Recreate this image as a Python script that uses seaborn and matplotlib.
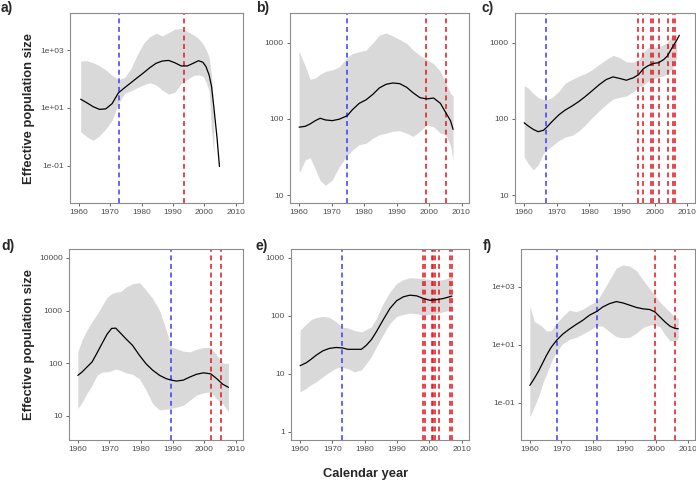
import numpy as np
import pandas as pd
import matplotlib
matplotlib.use("Agg")
import matplotlib.pyplot as plt
from matplotlib.ticker import NullLocator, FixedLocator, FixedFormatter
import seaborn as sns

# ---------------- data ----------------
# panel a
years_a = [1960.6, 1962.6, 1964.6, 1966.6, 1968.6, 1970.6, 1972.6, 1974.6, 1976.6, 1978.6,
           1980.6, 1982.6, 1984.6, 1986.6, 1988.6, 1990.6, 1992.6, 1994.6, 1996.6, 1998.1,
           1999.5, 2000.5, 2001.5, 2002.3, 2003.0, 2004.0, 2004.8]
med_a = [20, 15, 11, 8.9, 9.3, 14, 33, 50, 74, 110, 162, 245, 347, 417, 437, 363, 282, 282, 355, 427,
         380, 269, 138, 54, 11, 1.0, 0.095]
lo_a = [1.5, 1.0, 0.76, 1.1, 1.9, 3.7, 14, 32, 39, 50, 62, 74, 62, 41, 30, 35, 69, 98, 132, 138,
        126, 79, 40, 1.6, 0.25, np.nan, np.nan]
hi_a = [417, 427, 363, 282, 204, 135, 95, 112, 229, 676, 1700, 2880, 3800, 3090, 3980, 5250, 5620, 4370, 3310, 2510,
        1660, 1070, 560, 126, 4, np.nan, np.nan]
blue_a = [1972.8]
red_a = [1993.4]

# panel b
years_b = [1960.0, 1961.9, 1963.4, 1965.0, 1966.5, 1968.1, 1970.2, 1972.3, 1974.8, 1976.4,
           1978.5, 1980.6, 1982.7, 1984.7, 1986.8, 1988.9, 1991.0, 1993.1, 1995.1, 1997.2,
           1999.3, 2001.4, 2003.5, 2005.1, 2006.6, 2007.4]
med_b = [78, 80, 86, 95, 102, 97, 95, 99, 110, 132, 160, 178, 210, 255, 285, 296, 290, 260, 220, 190,
         183, 188, 160, 122, 95, 73]
lo_b = [19.6, 29, 31, 22, 15.5, 13.5, 15.8, 23.5, 33, 39, 46, 48, 56, 62, 65, 69, 70, 65, 59, 69,
        84, 79, 65, 62, 45, 29]
hi_b = [775, 490, 330, 345, 385, 420, 440, 480, 640, 720, 760, 800, 1000, 1250, 1340, 1220, 1100, 980, 800, 680,
        600, 530, 420, 300, 215, 200]
blue_b = [1974.8]
red_b = [1999.1, 2005.1]

# panel c
years_c = [1960.0, 1961.2, 1962.8, 1964.3, 1965.9, 1966.8, 1968.5, 1970.6, 1972.6, 1974.7,
           1976.8, 1978.8, 1980.9, 1983.0, 1985.1, 1987.2, 1989.2, 1991.3, 1993.4, 1995.0,
           1996.5, 1998.0, 1999.6, 2001.1, 2002.7, 2003.8, 2005.3, 2006.7, 2007.5]
med_c = [89, 81, 73, 68, 71, 77, 92, 113, 131, 148, 170, 198, 236, 282, 328, 356, 340, 322, 346, 380,
         455, 500, 535, 545, 600, 665, 860, 1080, 1250]
lo_c = [32, 26, 21.5, 25, 35.5, 39, 44, 52, 58, 61, 70, 84, 105, 128, 155, 182, 192, 200, 228, 260,
        280, 310, 335, 355, 365, 395, 450, 635, np.nan]
hi_c = [273, 255, 215, 190, 180, 178, 190, 230, 295, 330, 365, 395, 445, 520, 600, 680, 640, 560, 555, 600,
        740, 860, 860, 880, 950, 1000, 1230, 1290, np.nan]
blue_c = [1966.8]
red_c = [1995.0, 1996.5, 1998.8, 1999.5, 2001.2, 2003.9, 2005.5, 2006.3]

# panel d
years_d = [1960.0, 1961.3, 1962.9, 1964.5, 1966.1, 1967.7, 1969.3, 1970.7, 1972.0, 1973.6,
           1975.2, 1977.3, 1979.5, 1981.6, 1983.7, 1985.9, 1988.0, 1989.6, 1991.2, 1993.4,
           1995.5, 1997.6, 1999.8, 2002.1, 2004.0, 2005.9, 2007.7]
med_d = [59, 68, 85, 106, 158, 240, 360, 460, 465, 370, 293, 220, 142, 98, 74, 59, 51, 48, 46, 48,
         55, 62, 66, 63, 51, 40, 35]
lo_d = [13.8, 18, 27, 38, 60, 68, 69, 72, 78, 73, 66, 62, 51, 31, 17, 13, 13.5, 14, 14.7, 16,
        20, 25, 27.5, 29, 21, 17, 12]
hi_d = [166, 275, 430, 620, 860, 1250, 1800, 2100, 2250, 2300, 2800, 3250, 3400, 2450, 1700, 1000, 425, 205, 190, 170,
        165, 185, 200, 200, 142, 100, 100]
blue_d = [1989.6]
red_d = [2002.1, 2005.2]

# panel e
years_e = [1960.0, 1961.9, 1963.4, 1965.0, 1967.1, 1969.1, 1971.2, 1973.1, 1974.8, 1976.9,
           1979.0, 1980.5, 1982.1, 1983.6, 1985.7, 1987.8, 1989.9, 1992.0, 1994.0, 1996.1,
           1998.2, 2000.2, 2002.3, 2004.4, 2007.0]
med_e = [13.8, 15.5, 17.8, 21, 25, 27.5, 28.5, 28, 26.5, 26.5, 26.5, 31, 39, 53, 85, 134, 183, 214, 228, 222,
         200, 186, 191, 200, 220]
lo_e = [4.9, 5.6, 6.5, 7.3, 8.9, 10.7, 12.6, 13.0, 12.2, 10.8, 11.8, 15, 20, 29, 47, 74, 98, 106, 112, 109,
        103, 106, 109, 118, 130]
hi_e = [57, 72, 86, 94, 98, 94, 79, 64, 62, 56, 53, 58, 65, 90, 163, 258, 362, 425, 457, 450,
        440, 425, 410, 425, 470]
blue_e = [1973.1]
red_e = [1998.2, 1998.6, 2000.7, 2001.1, 2001.9, 2003.1, 2006.3, 2007.1]

# panel f
years_f = [1960.0, 1961.4, 1962.8, 1964.0, 1965.3, 1966.7, 1968.5, 1970.4, 1972.5, 1974.6,
           1976.8, 1978.9, 1981.3, 1983.1, 1985.3, 1987.4, 1989.5, 1991.7, 1993.8, 1995.9,
           1998.0, 1999.6, 2001.2, 2002.8, 2004.4, 2006.0, 2007.0]
med_f = [0.40, 0.69, 1.26, 2.3, 4.4, 8.1, 14.5, 23.4, 35, 50, 71, 106, 145, 204, 267, 312, 280, 233, 195, 175,
         166, 137, 92, 62, 44, 37, 36]
lo_f = [0.033, 0.072, 0.17, 0.45, 1.0, 2.5, 6, 11, 15.5, 18, 24, 32, 46, 44, 28, 19, 17.5, 18.5, 26, 40,
        48, 50, 42, 22, 14, 13, 16.6]
hi_f = [215, 65, 52, 42, 30, 31, 57, 97, 158, 140, 170, 240, 330, 700, 1800, 4500, 5800, 5200, 3600, 1700,
        850, 515, 300, 200, 135, 90, 82]
blue_f = [1968.5, 1981.3]
red_f = [1999.6, 2006.1]

panel_labels = ["a)", "b)", "c)", "d)", "e)", "f)"]
x_ticks = [1960, 1970, 1980, 1990, 2000, 2010]
yticks_sci = [0.1, 10, 1000]
yticks_sci_labels = ["1e-01", "1e+01", "1e+03"]
yticks_b = [10, 100, 1000]
yticks_b_labels = ["10", "100", "1000"]
yticks_d = [10, 100, 1000, 10000]
yticks_d_labels = ["10", "100", "1000", "10000"]
yticks_e = [1, 10, 100, 1000]
yticks_e_labels = ["1", "10", "100", "1000"]
y_label = "Effective population size"
x_label = "Calendar year"

# ---------------- styling ----------------
sns.set_style("white")
plt.rcParams["font.family"] = ["Liberation Sans", "DejaVu Sans"]

W, H = 696, 483
fig = plt.figure(figsize=(W / 100, H / 100), dpi=100)

def rect(x0, y0, x1, y1):
    return [x0 / W, 1 - y1 / H, (x1 - x0) / W, (y1 - y0) / H]

panels = [
    dict(years=years_a, med=med_a, lo=lo_a, hi=hi_a, blue=blue_a, red=red_a,
         ticks=yticks_sci, labels=yticks_sci_labels, ylim=(0.0052, 19000), box=(70, 13, 243, 203)),
    dict(years=years_b, med=med_b, lo=lo_b, hi=hi_b, blue=blue_b, red=red_b,
         ticks=yticks_b, labels=yticks_b_labels, ylim=(7.9, 2450), box=(290, 13, 469, 203)),
    dict(years=years_c, med=med_c, lo=lo_c, hi=hi_c, blue=blue_c, red=red_c,
         ticks=yticks_b, labels=yticks_b_labels, ylim=(7.9, 2450), box=(515, 13, 695, 203)),
    dict(years=years_d, med=med_d, lo=lo_d, hi=hi_d, blue=blue_d, red=red_d,
         ticks=yticks_d, labels=yticks_d_labels, ylim=(3.5, 14800), box=(69, 249, 243, 440)),
    dict(years=years_e, med=med_e, lo=lo_e, hi=hi_e, blue=blue_e, red=red_e,
         ticks=yticks_e, labels=yticks_e_labels, ylim=(0.72, 1430), box=(291, 249, 469, 440)),
    dict(years=years_f, med=med_f, lo=lo_f, hi=hi_f, blue=blue_f, red=red_f,
         ticks=yticks_sci, labels=yticks_sci_labels, ylim=(0.0052, 20400), box=(521, 249, 695, 440)),
]

label_pos = [(1, 8), (256, 8), (481, 8), (1, 246), (256, 246), (483, 246)]

for i, p in enumerate(panels):
    ax = fig.add_axes(rect(*p["box"]))
    df = pd.DataFrame({"year": p["years"], "median": p["med"],
                       "lower": p["lo"], "upper": p["hi"]})
    ax.fill_between(df["year"], df["lower"], df["upper"], color="#d9d9d9",
                    linewidth=0, zorder=1)
    for v in p["blue"]:
        ax.axvline(v, color="#3b3bff", linestyle=(0, (3.2, 2.4)), linewidth=1.1, zorder=2)
    for v in p["red"]:
        ax.axvline(v, color="#e3141c", linestyle=(0, (3.2, 2.4)), linewidth=1.1, zorder=2)
    sns.lineplot(data=df, x="year", y="median", ax=ax, color="black",
                 linewidth=0.9, zorder=3, sort=False)
    ax.set_yscale("log")
    ax.set_ylim(*p["ylim"])
    ax.set_xlim(1957.2, 2012.3)
    ax.yaxis.set_major_locator(FixedLocator(p["ticks"]))
    ax.yaxis.set_major_formatter(FixedFormatter(p["labels"]))
    ax.yaxis.set_minor_locator(NullLocator())
    ax.set_xticks(x_ticks)
    ax.set_xticklabels([str(t) for t in x_ticks])
    ax.set_xlabel("")
    ax.set_ylabel("")
    ax.tick_params(axis="both", which="major", labelsize=6, colors="#4d4d4d",
                   length=2.5, width=0.6, direction="out", pad=2,
                   bottom=True, left=True)
    for s in ax.spines.values():
        s.set_color("#8c8c8c")
        s.set_linewidth(0.8)
    ax.grid(False)
    lx, ly = label_pos[i]
    fig.text(lx / W, 1 - ly / H, panel_labels[i], fontsize=10, fontweight="bold",
             ha="left", va="center")

fig.text(29 / W, 1 - 108 / H, y_label, rotation=90, fontsize=9.3, fontweight="bold",
         ha="center", va="center")
fig.text(29 / W, 1 - 345 / H, y_label, rotation=90, fontsize=9.3, fontweight="bold",
         ha="center", va="center")
fig.text(366 / W, 1 - 474 / H, x_label, fontsize=9.3, fontweight="bold",
         ha="center", va="center")

fig.savefig("out.png", dpi=100)
